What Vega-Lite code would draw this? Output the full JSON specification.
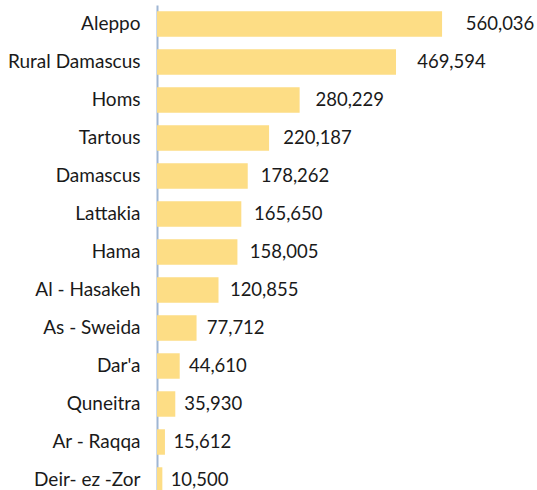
{
  "$schema": "https://vega.github.io/schema/vega-lite/v6.json",
  "width": 380,
  "height": 494,
  "autosize": {"type": "none"},
  "padding": {"left": 157, "top": 5, "right": 0, "bottom": 0},
  "background": "white",
  "config": {"view": {"stroke": null}, "font": "Lato"},
  "data": {"values": [
    {"region": "Aleppo", "value": 560036},
    {"region": "Rural Damascus", "value": 469594},
    {"region": "Homs", "value": 280229},
    {"region": "Tartous", "value": 220187},
    {"region": "Damascus", "value": 178262},
    {"region": "Lattakia", "value": 165650},
    {"region": "Hama", "value": 158005},
    {"region": "Al - Hasakeh", "value": 120855},
    {"region": "As - Sweida", "value": 77712},
    {"region": "Dar'a", "value": 44610},
    {"region": "Quneitra", "value": 35930},
    {"region": "Ar - Raqqa", "value": 15612},
    {"region": "Deir- ez -Zor", "value": 10500}
  ]},
  "encoding": {
    "y": {
      "field": "region",
      "type": "nominal",
      "sort": {"field": "value", "order": "descending"},
      "scale": {"paddingInner": 0.33, "paddingOuter": 0.165},
      "axis": {
        "title": null,
        "ticks": false,
        "labelFont": "Lato",
        "labelFontSize": 19,
        "labelColor": "#1a1a1a",
        "labelPadding": 17,
        "labelBaseline": "middle",
        "domainColor": "#9fb6d3",
        "domainWidth": 2
      }
    }
  },
  "layer": [
    {
      "mark": {"type": "bar", "color": "#fddd85"},
      "encoding": {
        "x": {"field": "value", "type": "quantitative", "scale": {"domain": [0, 746562], "nice": false}, "axis": null}
      }
    },
    {
      "mark": {"type": "text", "align": "left", "baseline": "middle", "dx": 8, "font": "Lato", "fontSize": 18.5, "color": "#1a1a1a"},
      "encoding": {
        "x": {"field": "value", "type": "quantitative", "scale": {"domain": [0, 707635], "nice": false}, "axis": null},
        "text": {"field": "value", "type": "quantitative", "format": ","}
      }
    }
  ],
  "resolve": {"scale": {"x": "independent"}}
}
